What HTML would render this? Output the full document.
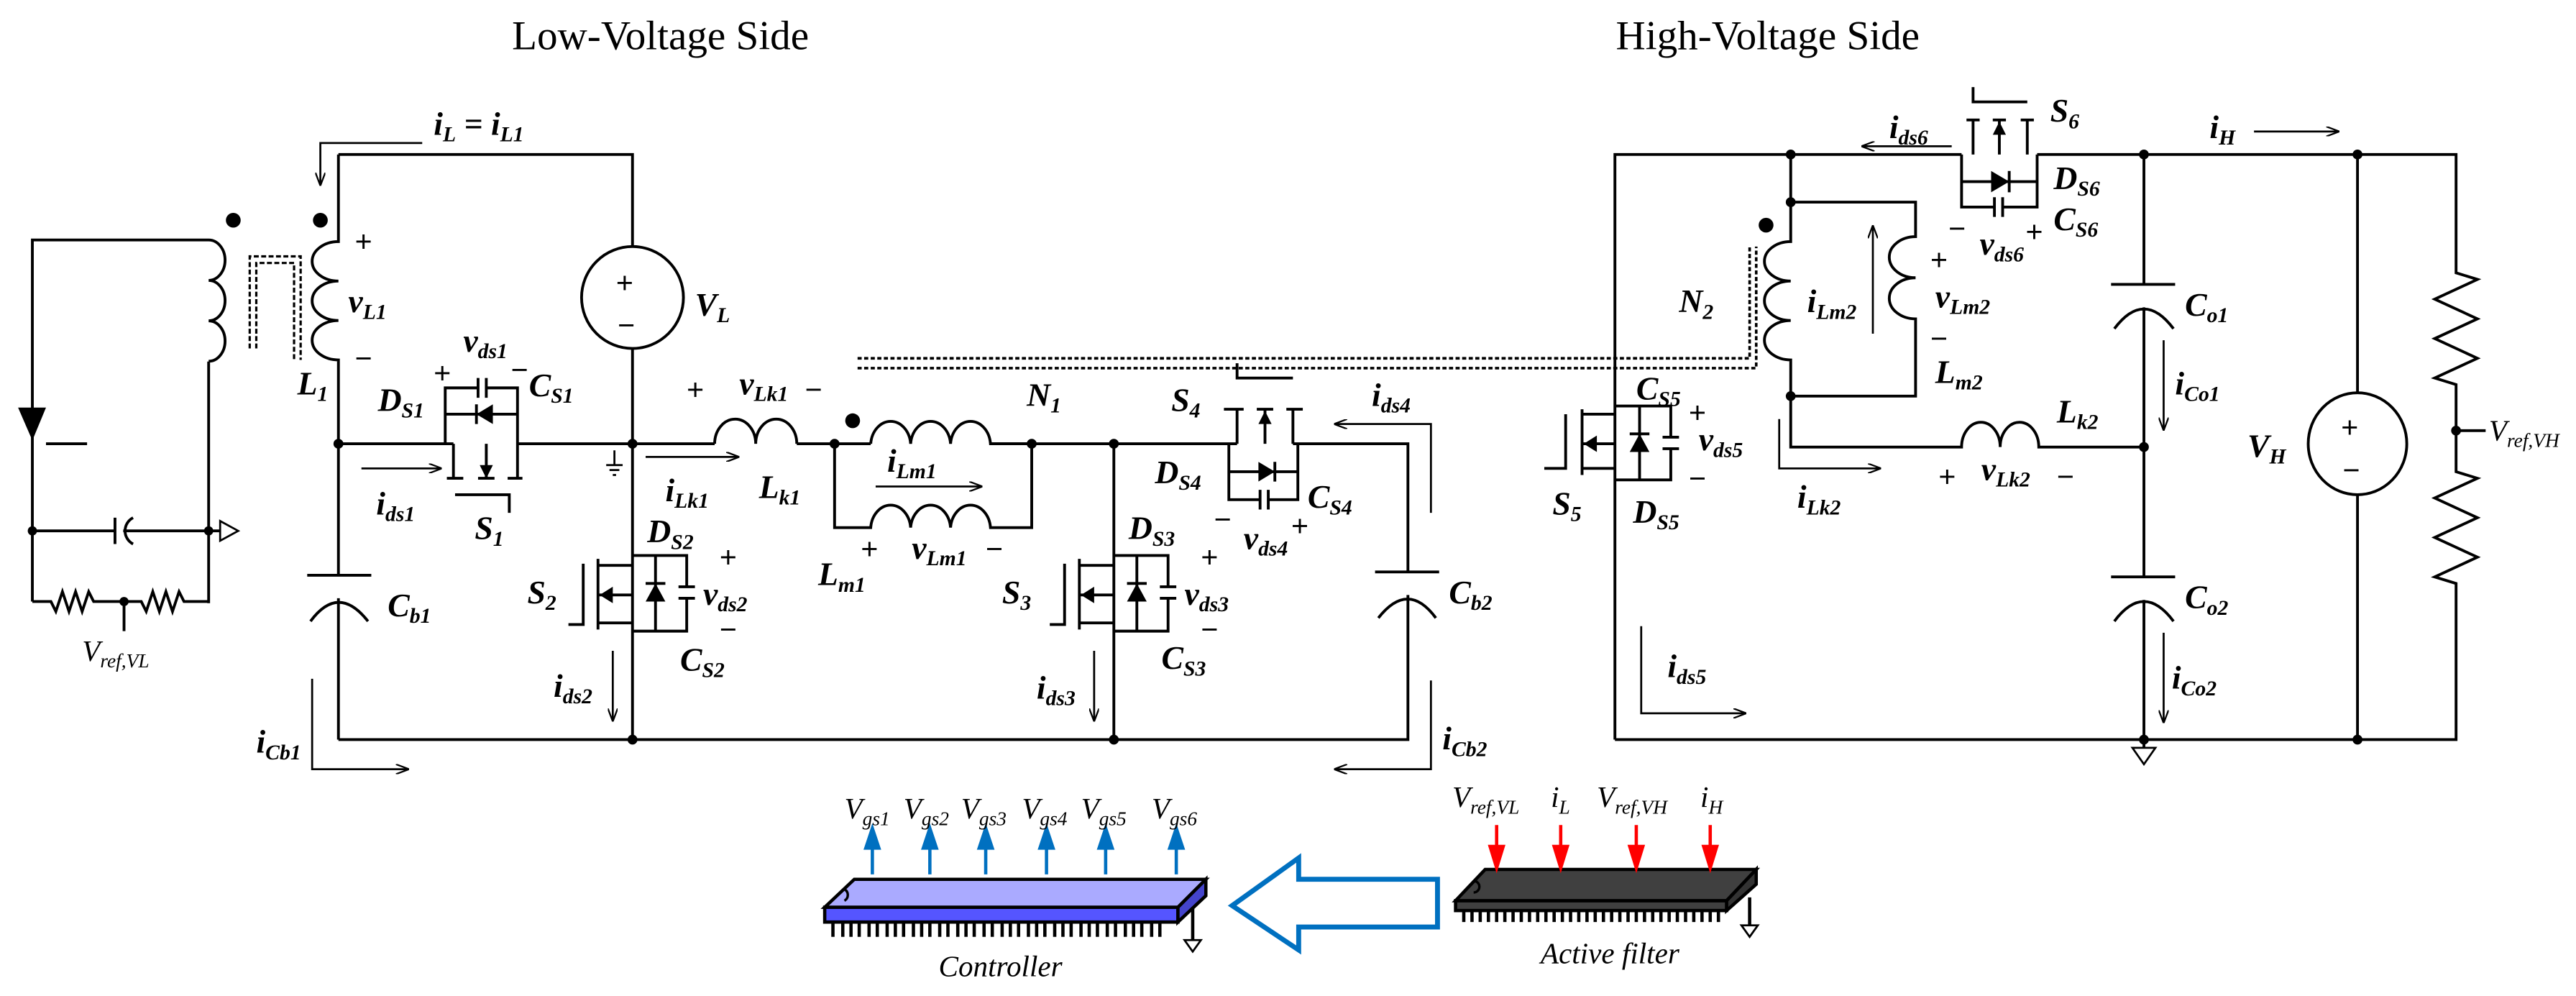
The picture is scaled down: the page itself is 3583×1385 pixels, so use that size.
<!DOCTYPE html>
<html><head><meta charset="utf-8"><style>
html,body{margin:0;padding:0;background:#fff;}
svg{display:block;}
.w{stroke:#000;stroke-width:1.7;fill:none;}
.t{stroke:#000;stroke-width:1.2;fill:none;}
.l{font-family:"Liberation Serif",serif;font-style:italic;font-weight:bold;font-size:20px;}
.s{font-size:13px;}
.p{font-family:"Liberation Sans",sans-serif;font-size:18px;}
.n{font-family:"Liberation Serif",serif;font-style:italic;font-size:18px;}
.ns{font-size:12px;}
</style></head><body>
<svg width="3583" height="1385" viewBox="0 0 1568 606" preserveAspectRatio="none" xmlns="http://www.w3.org/2000/svg">
<defs>
<marker id="ah" markerWidth="8" markerHeight="6" refX="7" refY="3" orient="auto" markerUnits="userSpaceOnUse"><path d="M0,0 L8,3 L0,6" fill="none" stroke="#000" stroke-width="1"/></marker>
</defs>
<rect width="1568" height="606" fill="#fff"/>
<text x="402" y="30" text-anchor="middle" font-family="Liberation Serif,serif" font-size="25">Low-Voltage Side</text>
<text x="1076" y="30" text-anchor="middle" font-family="Liberation Serif,serif" font-size="25">High-Voltage Side</text>

<!-- LEFT AUX CIRCUIT -->
<path class="w" d="M19.7 366 V146 H127 M127 146 a10 12.3 0 0 1 0 24.6 a10 12.3 0 0 1 0 24.6 a10 12.3 0 0 1 0 24.6 M127 220 V367"/>
<polygon points="11,248 28,248 19.7,268" fill="#000"/>
<line class="w" x1="28" y1="270" x2="53" y2="270"/>
<path class="w" d="M19.7 323 H70 M70 315 V331 M81 315 A9 9 0 0 0 81 331 M75 323 H127 M127 323 H134"/>
<path class="t" d="M134 317 L145 323 L134 329 Z"/>
<circle cx="19.7" cy="323" r="2.8"/><circle cx="127" cy="323" r="2.8"/>
<path class="w" d="M19.7 366 H31 l3 6 l4 -12 l4 12 l4 -12 l4 12 l4 -12 l3 6 H86 l3 6 l4 -12 l4 12 l4 -12 l4 12 l4 -12 l3 6 H127"/>
<circle cx="75.5" cy="366" r="2.8"/><line class="w" x1="75.5" y1="366" x2="75.5" y2="384"/>
<text class="n" x="50" y="402">V<tspan class="ns" dy="4">ref,VL</tspan></text>
<!-- core -->
<path d="M152 212 V156 H183 V219 M156 212 V160 H179 V219" fill="none" stroke="#000" stroke-width="1.4" stroke-dasharray="3,1.5"/>
<circle cx="142" cy="134" r="4.5"/><circle cx="195" cy="134" r="4.5"/>
<!-- L1 -->
<path class="w" d="M206 94 V147 a16 12 0 0 0 0 24 a16 12 0 0 0 0 24 a16 12 0 0 0 0 24 V350 M206 364 V450"/>
<text class="p" x="216" y="153">+</text><text class="l" x="212" y="190">v<tspan class="s" dy="4">L1</tspan></text><text class="p" x="216" y="224">−</text>
<text class="l" x="181" y="240">L<tspan class="s" dy="4">1</tspan></text>
<!-- top wire and iL -->
<path class="w" d="M206 94 H385 V150 M385 212 V450"/>
<ellipse class="w" cx="385" cy="181" rx="31" ry="31"/>
<text class="p" x="375" y="178" font-size="24">+</text><text class="p" x="376" y="204" font-size="24">−</text>
<text class="l" x="423" y="192">V<tspan class="s" dy="4">L</tspan></text>
<path class="t" d="M257 87 H195 V112" marker-end="url(#ah)"/>
<text class="l" x="264" y="82">i<tspan class="s" dy="4">L</tspan><tspan dy="-4"> = i</tspan><tspan class="s" dy="4">L1</tspan></text>
<!-- main wire -->
<path class="w" d="M206 270 H276 M315 270 H435 M485 270 H530 M603 270 H753 M787 270 H857 V348 M857 362 V450 H206"/>
<path class="w" d="M435 270 a12.5 15 0 0 1 25 0 a12.5 15 0 0 1 25 0"/>
<path class="w" d="M530 270 a12.2 15 0 0 1 24.3 0 a12.2 15 0 0 1 24.3 0 a12.2 15 0 0 1 24.3 0 H628"/>
<path class="w" d="M508 270 V321 H530 a12.2 15 0 0 1 24.3 0 a12.2 15 0 0 1 24.3 0 a12.2 15 0 0 1 24.3 0 H628 V270"/>
<circle cx="206" cy="270" r="3"/><circle cx="385" cy="270" r="3"/><circle cx="508" cy="270" r="3"/><circle cx="628" cy="270" r="3"/><circle cx="678" cy="270" r="3"/>
<circle cx="385" cy="450" r="3"/><circle cx="678" cy="450" r="3"/>
<circle cx="519" cy="256" r="4.5"/>
<path class="t" d="M374 274 V283 M369 283 H379 M371 286 H377 M373 289 H375"/>
<text class="p" x="418" y="243">+</text><text class="l" x="450" y="240">v<tspan class="s" dy="4">Lk1</tspan></text><text class="p" x="490" y="243">−</text>
<path class="t" d="M393 278 H449" marker-end="url(#ah)"/>
<text class="l" x="405" y="305">i<tspan class="s" dy="4">Lk1</tspan></text>
<text class="l" x="462" y="303">L<tspan class="s" dy="4">k1</tspan></text>
<text class="l" x="625" y="247">N<tspan class="s" dy="4">1</tspan></text>
<path class="t" d="M533 296 H597" marker-end="url(#ah)"/>
<text class="l" x="540" y="287">i<tspan class="s" dy="4">Lm1</tspan></text>
<text class="p" x="524" y="340">+</text><text class="l" x="555" y="340">v<tspan class="s" dy="4">Lm1</tspan></text><text class="p" x="600" y="340">−</text>
<text class="l" x="498" y="356">L<tspan class="s" dy="4">m1</tspan></text>
<!-- dashed core long -->
<path d="M522 218 H1065 V150 M522 224 H1069 V150" fill="none" stroke="#000" stroke-width="1.6" stroke-dasharray="2.5,1.5"/>

<!-- S1 -->
<path class="w" d="M271 270 V236 H291 M296 236 H315 V270 M271 252 H315 M276 270 V291 M315 270 V291 M296 270 V291 M272 291 H282 M291 291 H301 M309 291 H318 M277 301 H310 V312"/>
<path class="w" d="M291 230 V242 M296 230 V242 M290 246 V258"/>
<polygon points="290,252 300,246 300,258"/><polygon points="292,283 300,283 296,291"/>
<text class="p" x="264" y="233">+</text><text class="l" x="282" y="214">v<tspan class="s" dy="4">ds1</tspan></text><text class="p" x="311" y="231">−</text>
<text class="l" x="322" y="241">C<tspan class="s" dy="4">S1</tspan></text>
<text class="l" x="230" y="250">D<tspan class="s" dy="4">S1</tspan></text>
<text class="l" x="289" y="328">S<tspan class="s" dy="4">1</tspan></text>
<path class="t" d="M220 285 H268" marker-end="url(#ah)"/>
<text class="l" x="229" y="313">i<tspan class="s" dy="4">ds1</tspan></text>
<!-- Cb1 -->
<path class="w" d="M187 350 H226 M189 378 Q206 355 224 378"/>
<text class="l" x="236" y="375">C<tspan class="s" dy="4">b1</tspan></text>
<path class="t" d="M190 413 V468 H248" marker-end="url(#ah)"/>
<text class="l" x="156" y="458">i<tspan class="s" dy="4">Cb1</tspan></text>

<!-- S2 -->
<g id="s2">
<path class="w" d="M385 338 H418 V357 M418 364 V384 H385 M399 338 V384 M413 357 H423 M413 364 H423 M393 355 H405 M364 340 V383 M364 344 H385 M364 362 H385 M364 379 H385 M355 343 V380 H346"/>
<polygon points="393,366 405,366 399,355"/><polygon points="365,362 373,357 373,367"/>
</g>
<text class="l" x="394" y="330">D<tspan class="s" dy="4">S2</tspan></text>
<text class="p" x="438" y="345">+</text><text class="l" x="428" y="368">v<tspan class="s" dy="4">ds2</tspan></text><text class="p" x="438" y="389">−</text>
<text class="l" x="414" y="408">C<tspan class="s" dy="4">S2</tspan></text>
<text class="l" x="321" y="367">S<tspan class="s" dy="4">2</tspan></text>
<path class="t" d="M373 396 V438" marker-end="url(#ah)"/>
<text class="l" x="337" y="424">i<tspan class="s" dy="4">ds2</tspan></text>
<!-- S3 -->
<path class="w" d="M678 270 V450"/>
<use href="#s2" x="293" y="0"/>
<text class="l" x="687" y="328">D<tspan class="s" dy="4">S3</tspan></text>
<text class="p" x="731" y="345">+</text><text class="l" x="721" y="368">v<tspan class="s" dy="4">ds3</tspan></text><text class="p" x="731" y="389">−</text>
<text class="l" x="707" y="407">C<tspan class="s" dy="4">S3</tspan></text>
<text class="l" x="610" y="367">S<tspan class="s" dy="4">3</tspan></text>
<path class="t" d="M666 396 V438" marker-end="url(#ah)"/>
<text class="l" x="631" y="425">i<tspan class="s" dy="4">ds3</tspan></text>

<!-- S4 -->
<g id="s4">
<path class="w" d="M748 270 V304 H767 M772 304 H790 V270 M748 287 H790 M753 270 V249 M787 270 V249 M770 270 V249 M745 249 H757 M765 249 H775 M783 249 H793 M787 230 H753 V221 M767 298 V310 M772 298 V310 M776 281 V293"/>
<polygon points="766,281 766,293 776,287"/><polygon points="766,258 774,258 770,250"/>
</g>
<text class="l" x="713" y="250">S<tspan class="s" dy="4">4</tspan></text>
<text class="l" x="703" y="294">D<tspan class="s" dy="4">S4</tspan></text>
<text class="l" x="796" y="309">C<tspan class="s" dy="4">S4</tspan></text>
<text class="p" x="739" y="322">−</text><text class="l" x="757" y="334">v<tspan class="s" dy="4">ds4</tspan></text><text class="p" x="786" y="326">+</text>
<path class="t" d="M871 312 V258 H813" marker-end="url(#ah)"/>
<text class="l" x="835" y="247">i<tspan class="s" dy="4">ds4</tspan></text>
<!-- Cb2 -->
<path class="w" d="M837 348 H876 M839 376 Q857 353 874 376"/>
<text class="l" x="882" y="367">C<tspan class="s" dy="4">b2</tspan></text>
<path class="t" d="M871 414 V468 H813" marker-end="url(#ah)"/>
<text class="l" x="878" y="456">i<tspan class="s" dy="4">Cb2</tspan></text>

<!-- RIGHT SIDE -->
<path class="w" d="M983 450 V94 H1194 M1240 94 H1495 V166 l13 4 l-26 12 l26 12 l-26 12 l26 12 l-26 12 l13 4 V287 l13 4 l-26 12 l26 12 l-26 12 l26 12 l-26 12 l13 4 V450 H983"/>
<path class="w" d="M1495 262 H1513"/><circle cx="1495" cy="262" r="3"/>
<text class="n" x="1515" y="268">V<tspan class="ns" dy="4">ref,VH</tspan></text>
<circle cx="1090" cy="94" r="3"/><circle cx="1305" cy="94" r="3"/><circle cx="1435" cy="94" r="3"/>
<circle cx="1305" cy="450" r="3"/><circle cx="1435" cy="450" r="3"/>
<!-- S6 -->
<path class="w" d="M1194 94 V126 H1214 M1219 126 H1240 V94 M1194 110.5 H1240 M1201 94 V73 M1234 94 V73 M1217 94 V73 M1197 73 H1205 M1213 73 H1221 M1230 73 H1238 M1234 62 H1201 V53 M1214 120 V132 M1219 120 V132 M1223 104 V117"/>
<polygon points="1212,104 1212,117 1223,110.5"/><polygon points="1213,82 1221,82 1217,74"/>
<text class="l" x="1248" y="74">S<tspan class="s" dy="4">6</tspan></text>
<text class="l" x="1250" y="115">D<tspan class="s" dy="4">S6</tspan></text>
<text class="l" x="1250" y="140">C<tspan class="s" dy="4">S6</tspan></text>
<text class="p" x="1186" y="145">−</text><text class="l" x="1205" y="155">v<tspan class="s" dy="4">ds6</tspan></text><text class="p" x="1233" y="147">+</text>
<path class="t" d="M1188 89 H1134" marker-end="url(#ah)"/>
<text class="l" x="1150" y="84">i<tspan class="s" dy="4">ds6</tspan></text>
<path class="t" d="M1372 80 H1423" marker-end="url(#ah)"/>
<text class="l" x="1345" y="84">i<tspan class="s" dy="4">H</tspan></text>
<!-- N2 / Lm2 -->
<path class="w" d="M1090 94 V147 a16 12 0 0 0 0 24 a16 12 0 0 0 0 24 a16 12 0 0 0 0 24 V272 H1194 a11.7 15 0 0 1 23.5 0 a11.7 15 0 0 1 23.5 0 H1305"/>
<path class="w" d="M1090 123 H1166 V144 a16 12.5 0 0 0 0 25 a16 12.5 0 0 0 0 25 V241 H1090"/>
<circle cx="1090" cy="123" r="3"/><circle cx="1090" cy="241" r="3"/><circle cx="1305" cy="272" r="3"/>
<circle cx="1075" cy="137" r="4.5"/>
<path class="t" d="M1140 203 V138" marker-end="url(#ah)"/>
<text class="l" x="1100" y="190">i<tspan class="s" dy="4">Lm2</tspan></text>
<text class="p" x="1175" y="164">+</text><text class="l" x="1178" y="187">v<tspan class="s" dy="4">Lm2</tspan></text><text class="p" x="1175" y="212">−</text>
<text class="l" x="1178" y="233">L<tspan class="s" dy="4">m2</tspan></text>
<text class="l" x="1022" y="190">N<tspan class="s" dy="4">2</tspan></text>
<!-- S5 -->
<path class="w" d="M983 247 H1017 V266 M1017 273 V292 H983 M998 247 V292 M1012 266 H1022 M1012 273 H1022 M992 264 H1004 M963 249 V289 M963 252 H983 M963 270 H983 M963 285 H983 M953 252 V285 H940"/>
<polygon points="992,275 1004,275 998,264"/><polygon points="964,270 972,265 972,275"/>
<text class="l" x="996" y="243">C<tspan class="s" dy="4">S5</tspan></text>
<text class="p" x="1028" y="257">+</text><text class="l" x="1034" y="274">v<tspan class="s" dy="4">ds5</tspan></text><text class="p" x="1028" y="297">−</text>
<text class="l" x="945" y="313">S<tspan class="s" dy="4">5</tspan></text>
<text class="l" x="994" y="318">D<tspan class="s" dy="4">S5</tspan></text>
<path class="t" d="M1083 255 V285 H1144" marker-end="url(#ah)"/>
<text class="l" x="1094" y="309">i<tspan class="s" dy="4">Lk2</tspan></text>
<text class="p" x="1180" y="296">+</text><text class="l" x="1206" y="292">v<tspan class="s" dy="4">Lk2</tspan></text><text class="p" x="1252" y="296">−</text>
<text class="l" x="1252" y="257">L<tspan class="s" dy="4">k2</tspan></text>
<path class="t" d="M999 381 V434 H1062" marker-end="url(#ah)"/>
<text class="l" x="1015" y="412">i<tspan class="s" dy="4">ds5</tspan></text>
<!-- Co1 / Co2 -->
<path class="w" d="M1305 94 V173 M1285 173 H1324 M1287 200 Q1305 176 1323 200 M1305 187 V351 M1285 351 H1324 M1287 378 Q1305 354 1323 378 M1305 365 V455"/>
<path class="t" d="M1305 455 H1298 L1305 465 L1312 455 Z"/>
<text class="l" x="1330" y="192">C<tspan class="s" dy="4">o1</tspan></text>
<text class="l" x="1330" y="370">C<tspan class="s" dy="4">o2</tspan></text>
<path class="t" d="M1317 207 V261" marker-end="url(#ah)"/>
<text class="l" x="1324" y="240">i<tspan class="s" dy="4">Co1</tspan></text>
<path class="t" d="M1317 385 V439" marker-end="url(#ah)"/>
<text class="l" x="1322" y="419">i<tspan class="s" dy="4">Co2</tspan></text>
<!-- VH -->
<path class="w" d="M1435 94 V239 M1435 301 V450"/>
<ellipse class="w" cx="1435" cy="270" rx="30" ry="31"/>
<text class="p" x="1425" y="266" font-size="24">+</text><text class="p" x="1426" y="292" font-size="24">−</text>
<text class="l" x="1368" y="278">V<tspan class="s" dy="4">H</tspan></text>

<!-- CONTROLLER -->
<g stroke="#000" stroke-width="2">
<path d="M507 561 V570 M513 561 V570 M518 561 V570 M523 561 V570 M529 561 V570 M534 561 V570 M540 561 V570 M545 561 V570 M550 561 V570 M556 561 V570 M561 561 V570 M566 561 V570 M572 561 V570 M577 561 V570 M583 561 V570 M588 561 V570 M593 561 V570 M599 561 V570 M604 561 V570 M610 561 V570 M615 561 V570 M620 561 V570 M626 561 V570 M631 561 V570 M636 561 V570 M642 561 V570 M647 561 V570 M652 561 V570 M658 561 V570 M663 561 V570 M668 561 V570 M674 561 V570 M679 561 V570 M685 561 V570 M690 561 V570 M695 561 V570 M701 561 V570 M706 561 V570"/>
<polygon points="502,552 717,552 717,561 502,561" fill="#5555ff"/>
<polygon points="520,535 734,535 717,552 502,552" fill="#aaaaff"/>
<polygon points="717,552 734,535 734,545 717,561" fill="#4444cc"/>
<path d="M726 552 V572" fill="none"/>
</g>
<path d="M514 541 a4 4 0 0 1 0 7" fill="none" stroke="#000" stroke-width="1.5"/>
<path class="t" d="M721 572 H731 L726 579 Z"/>
<g stroke="#0070c0" stroke-width="2" fill="#0070c0">
<path d="M531 532 V514 M566 532 V514 M600 532 V514 M637 532 V514 M673 532 V514 M716 532 V514"/>
<polygon points="527,516 535,516 531,504"/><polygon points="562,516 570,516 566,504"/><polygon points="596,516 604,516 600,504"/><polygon points="633,516 641,516 637,504"/><polygon points="669,516 677,516 673,504"/><polygon points="712,516 720,516 716,504"/>
</g>
<text class="n" x="514" y="498">V<tspan class="ns" dy="4">gs1</tspan></text>
<text class="n" x="550" y="498">V<tspan class="ns" dy="4">gs2</tspan></text>
<text class="n" x="585" y="498">V<tspan class="ns" dy="4">gs3</tspan></text>
<text class="n" x="622" y="498">V<tspan class="ns" dy="4">gs4</tspan></text>
<text class="n" x="658" y="498">V<tspan class="ns" dy="4">gs5</tspan></text>
<text class="n" x="701" y="498">V<tspan class="ns" dy="4">gs6</tspan></text>
<text class="n" x="609" y="594" text-anchor="middle" font-size="22">Controller</text>
<!-- big arrow -->
<polygon points="875,535 790.5,535 790.5,522 750,551 790.5,578 790.5,564 875,564" fill="none" stroke="#0070c0" stroke-width="3"/>
<!-- ACTIVE FILTER -->
<g stroke="#000" stroke-width="2">
<path d="M891 553 V561 M896 553 V561 M901 553 V561 M906 553 V561 M911 553 V561 M916 553 V561 M921 553 V561 M926 553 V561 M931 553 V561 M936 553 V561 M941 553 V561 M946 553 V561 M951 553 V561 M956 553 V561 M961 553 V561 M966 553 V561 M971 553 V561 M976 553 V561 M981 553 V561 M986 553 V561 M991 553 V561 M996 553 V561 M1001 553 V561 M1006 553 V561 M1011 553 V561 M1016 553 V561 M1021 553 V561 M1026 553 V561 M1031 553 V561 M1036 553 V561 M1041 553 V561 M1046 553 V561"/>
<polygon points="886,548 1051,548 1051,554 886,554" fill="#404040"/>
<polygon points="904,529 1069,529 1051,548 886,548" fill="#404040"/>
<polygon points="1051,548 1069,529 1069,538 1051,554" fill="#333"/>
<path d="M1065 546 V563" fill="none"/>
</g>
<path d="M897 536 a3.5 3.5 0 0 1 0 7" fill="none" stroke="#000" stroke-width="1.5"/>
<path class="t" d="M1060 563 H1070 L1065 570 Z"/>
<g stroke="#ff0000" stroke-width="2" fill="#ff0000">
<path d="M911 502 V518 M950 502 V518 M996 502 V518 M1041 502 V518"/>
<polygon points="907,515 915,515 911,528"/><polygon points="946,515 954,515 950,528"/><polygon points="992,515 1000,515 996,528"/><polygon points="1037,515 1045,515 1041,528"/>
</g>
<text class="n" x="884" y="491">V<tspan class="ns" dy="4">ref,VL</tspan></text>
<text class="n" x="944" y="491">i<tspan class="ns" dy="4">L</tspan></text>
<text class="n" x="972" y="491">V<tspan class="ns" dy="4">ref,VH</tspan></text>
<text class="n" x="1035" y="491">i<tspan class="ns" dy="4">H</tspan></text>
<text class="n" x="980" y="586" text-anchor="middle" font-size="22">Active filter</text>
</svg>
</body></html>
